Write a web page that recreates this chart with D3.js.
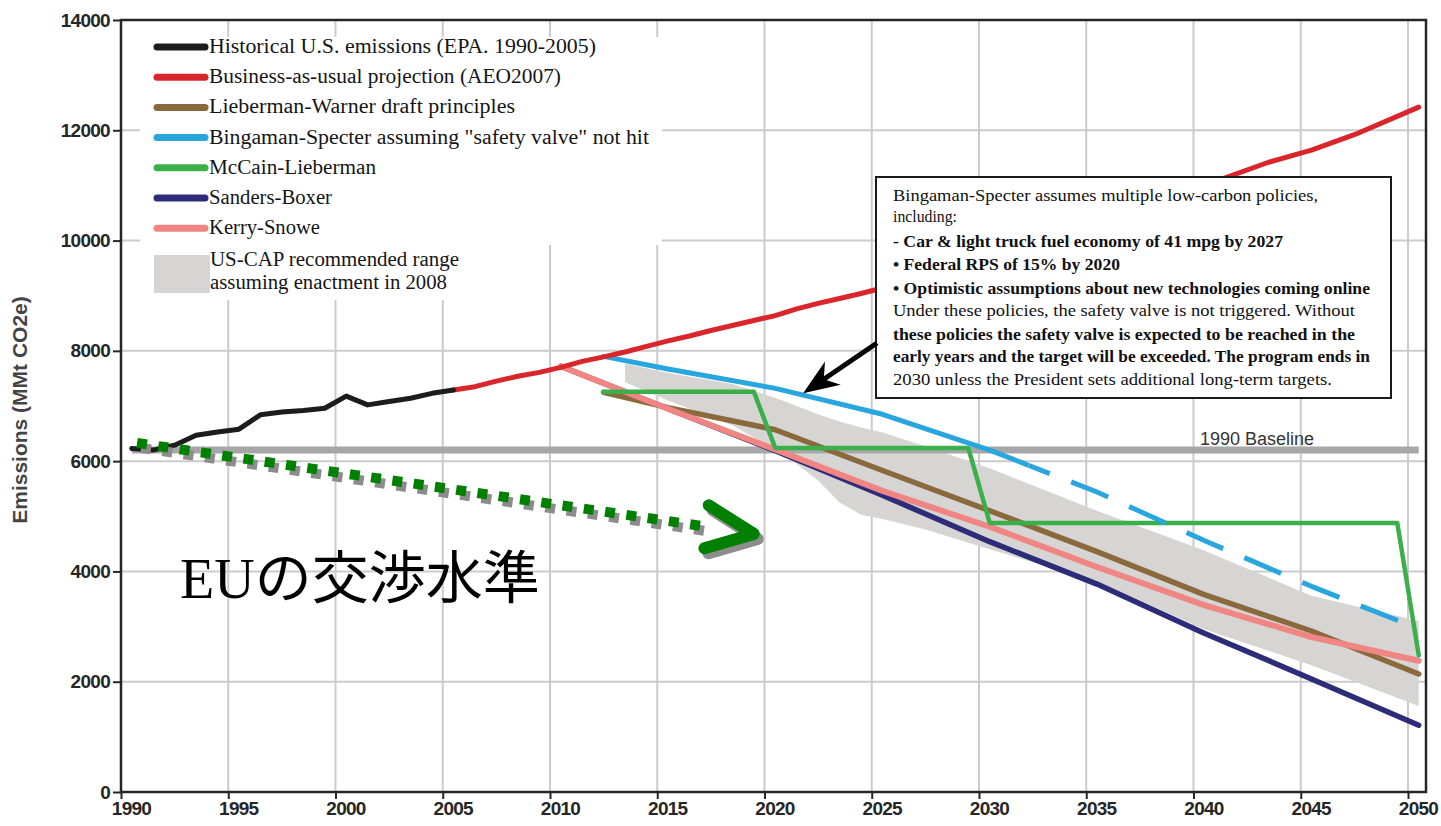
<!DOCTYPE html>
<html>
<head>
<meta charset="utf-8">
<script src="https://cdn.jsdelivr.net/npm/d3@7"></script>
<style>
  body { margin: 0; background: #fff; }
  svg { display: block; }
</style>
</head>
<body>
<svg id="chart" width="1441" height="826"></svg>
<script>
// ---- Data (MMt CO2e) -------------------------------------------------------
const yearTicks = [1990, 1995, 2000, 2005, 2010, 2015, 2020, 2025, 2030, 2035, 2040, 2045, 2050];
const emissionTicks = [0, 2000, 4000, 6000, 8000, 10000, 12000, 14000];

const historical = [
  [1990, 6230], [1991, 6200], [1992, 6290], [1993, 6470], [1994, 6530], [1995, 6580],
  [1996, 6840], [1997, 6890], [1998, 6920], [1999, 6960], [2000, 7180], [2001, 7020],
  [2002, 7080], [2003, 7140], [2004, 7230], [2005, 7290]
];
const businessAsUsual = [
  [2005, 7290], [2006, 7350], [2007, 7450], [2008, 7540], [2009, 7610], [2010, 7700],
  [2011, 7810], [2012, 7890], [2013, 7980], [2014, 8080], [2015, 8180], [2016, 8270],
  [2017, 8370], [2018, 8460], [2019, 8550], [2020, 8640], [2021, 8760], [2022, 8860],
  [2023, 8950], [2024, 9040], [2025, 9140], [2030, 9760], [2035, 10380], [2040, 11000],
  [2043, 11420], [2045, 11640], [2047, 11920], [2050, 12420]
];
const liebermanWarner = [
  [2012, 7250], [2015, 6970], [2020, 6570], [2025, 5830], [2030, 5100],
  [2035, 4360], [2040, 3580], [2045, 2920], [2050, 2140]
];
const bingamanSpecter = [
  [2012, 7900], [2015, 7670], [2020, 7320], [2025, 6850], [2030, 6200],
  [2035, 5440], [2040, 4560], [2045, 3730], [2050, 2960]
];
const bingamanDashedFrom = 2031.8;   // program ends: projection drawn dashed after this
const mccainLieberman = [
  [2012, 7260], [2019, 7260], [2020, 6240], [2029, 6240], [2030, 4880],
  [2049, 4880], [2050, 2480]
];
const sandersBoxer = [
  [2010, 7720], [2015, 6950], [2020, 6190], [2025, 5380], [2030, 4540],
  [2035, 3770], [2040, 2880], [2045, 2050], [2050, 1210]
];
const kerrySnowe = [
  [2010, 7720], [2015, 6950], [2020, 6210], [2025, 5460], [2030, 4810],
  [2035, 4080], [2040, 3390], [2045, 2810], [2050, 2380]
];
const rangeYears = [2013, 2015, 2018, 2020, 2021, 2022, 2023, 2024, 2025, 2027, 2030, 2035, 2040, 2045, 2050];
const rangeUpper = [7770, 7600, 7400, 7150, 7000, 6850, 6720, 6610, 6520, 6270, 5870, 5100, 4380, 3560, 3100];
const rangeLower = [7430, 7100, 6650, 6200, 5950, 5650, 5250, 5030, 4950, 4760, 4400, 3820, 2950, 2300, 1560];
const baseline = [[1990, 6200], [2050, 6200]];

const legendLabels = [
  "Historical U.S. emissions (EPA. 1990-2005)",
  "Business-as-usual projection (AEO2007)",
  "Lieberman-Warner draft principles",
  "Bingaman-Specter assuming \"safety valve\" not hit",
  "McCain-Lieberman",
  "Sanders-Boxer",
  "Kerry-Snowe"
];
const rangeLabel = ["US-CAP recommended range", "assuming enactment in 2008"];

const noteLines = [
  "Bingaman-Specter assumes multiple low-carbon policies,",
  "including:",
  "- Car & light truck fuel economy of 41 mpg by 2027",
  "\u2022 Federal RPS of 15% by 2020",
  "\u2022 Optimistic assumptions about new technologies coming online",
  "Under these policies, the safety valve is not triggered. Without",
  "these policies the safety valve is expected to be reached in the",
  "early years and the target will be exceeded. The program ends in",
  "2030 unless the President sets additional long-term targets."
];

// ---- Styles & layout -------------------------------------------------------
const colors = {
  historical: "#1c1c1c",
  bau: "#d9262c",
  lw: "#8a6a3c",
  bs: "#2aa6df",
  ml: "#3bb04a",
  sb: "#2c2c78",
  ks: "#ef8684",
  range: "#d7d4d4",
  baseline: "#a7a7a9",
  grid: "#cbcbcb",
  axis: "#262626"
};
const MID = 0.5; // annual values are plotted at mid-year
const legendTextWidths = [387, 352, 306, 440, 167, 123, 111];
const rangeTextWidths = [249, 237];
const noteTextWidths = [425, 64, 390, 227, 477, 462, 462, 477, 439];
const noteBold = [false, false, true, true, true, false, true, true, false];
const noteY = [201, 222, 247, 270, 294, 316, 340, 362, 385];

// ---- Scales ----------------------------------------------------------------
const svg = d3.select("#chart");
const plot = { left: 121, right: 1426, top: 20, bottom: 792 };
const x = d3.scaleLinear().domain([1990, 2050]).range([121, 1408]);
const y = d3.scaleLinear().domain([0, 14000]).range([plot.bottom, plot.top]);
const px = yr => x(yr + MID);

svg.append("rect").attr("width", 1441).attr("height", 826).attr("fill", "#fff");

// ---- Grid ------------------------------------------------------------------
const grid = svg.append("g").attr("stroke", colors.grid).attr("stroke-width", 2);
grid.selectAll("line.v").data(yearTicks.slice(1)).join("line")
  .attr("x1", d => x(d)).attr("x2", d => x(d))
  .attr("y1", plot.top).attr("y2", plot.bottom);
grid.selectAll("line.h").data(emissionTicks.slice(1, -1)).join("line")
  .attr("x1", plot.left).attr("x2", plot.right)
  .attr("y1", d => y(d)).attr("y2", d => y(d));

// white panel behind the legend
svg.append("rect").attr("x", 140).attr("y", 37).attr("width", 522).attr("height", 208).attr("fill", "#fff");
svg.append("rect").attr("x", 140).attr("y", 240).attr("width", 330).attr("height", 60).attr("fill", "#fff");

// ---- Series ----------------------------------------------------------------
const line = d3.line().x(d => px(d[0])).y(d => y(d[1]));

const area = d3.area()
  .x((d, i) => px(rangeYears[i]))
  .y0((d, i) => y(rangeLower[i]))
  .y1((d, i) => y(rangeUpper[i]));
svg.append("path").datum(rangeYears).attr("d", area).attr("fill", colors.range);

function drawLine(data, color, width) {
  return svg.append("path").datum(data).attr("d", line)
    .attr("fill", "none").attr("stroke", color).attr("stroke-width", width)
    .attr("stroke-linejoin", "round").attr("stroke-linecap", "round");
}

drawLine(baseline, colors.baseline, 7).attr("stroke-linecap", "butt");
svg.append("text").attr("x", 1200).attr("y", 445)
  .attr("font-family", "Liberation Sans, Arial, sans-serif").attr("font-size", 18)
  .attr("fill", "#333").text("1990 Baseline");

drawLine(liebermanWarner, colors.lw, 5.5);
drawLine(sandersBoxer, colors.sb, 5.5);
drawLine(kerrySnowe, colors.ks, 6);
drawLine(mccainLieberman, colors.ml, 4.5);

// Bingaman-Specter: solid while the program runs, dashed afterwards
const splitX = px(bingamanDashedFrom);
const defs = svg.append("defs");
defs.append("clipPath").attr("id", "clip-solid").append("rect")
  .attr("x", 0).attr("y", 0).attr("width", splitX).attr("height", 826);
defs.append("clipPath").attr("id", "clip-dash").append("rect")
  .attr("x", splitX).attr("y", 0).attr("width", 1441 - splitX).attr("height", 826);
drawLine(bingamanSpecter, colors.bs, 5).attr("clip-path", "url(#clip-solid)");
const dashed = drawLine(bingamanSpecter, colors.bs, 5).attr("clip-path", "url(#clip-dash)")
  .attr("stroke-linecap", "butt");
{
  const node = dashed.node();
  const total = node.getTotalLength();
  let lo = 0, hi = total;
  for (let k = 0; k < 40; k++) {
    const mid = (lo + hi) / 2;
    if (node.getPointAtLength(mid).x < splitX) lo = mid; else hi = mid;
  }
  const dash = 40, gap = 23;
  dashed.attr("stroke-dasharray", `${dash} ${gap}`).attr("stroke-dashoffset", dash - lo - gap);
}

drawLine(businessAsUsual, colors.bau, 5);
drawLine(historical, colors.historical, 5);

// ---- Axes & frame ----------------------------------------------------------
const axisFont = "Liberation Sans, Arial, sans-serif";
const yAxis = svg.append("g").attr("transform", `translate(${plot.left},0)`)
  .call(d3.axisLeft(y).tickValues(emissionTicks).tickSize(8).tickPadding(3).tickFormat(d3.format("d")));
const xAxis = svg.append("g").attr("transform", `translate(0,${plot.bottom})`)
  .call(d3.axisBottom(x).tickValues(yearTicks).tickSize(7).tickPadding(3).tickFormat(d3.format("d")));
[yAxis, xAxis].forEach(g => {
  g.select(".domain").remove();
  g.selectAll("line").attr("stroke", colors.axis).attr("stroke-width", 2);
  g.selectAll("text").attr("font-family", axisFont).attr("font-size", 19)
    .attr("font-weight", "bold").attr("fill", "#262626").attr("letter-spacing", -0.7);
});
xAxis.selectAll("text").attr("dx", 10);

svg.append("rect").attr("x", plot.left).attr("y", plot.top)
  .attr("width", plot.right - plot.left).attr("height", plot.bottom - plot.top)
  .attr("fill", "none").attr("stroke", colors.axis).attr("stroke-width", 2.5);

svg.append("text")
  .attr("transform", `translate(27,410) rotate(-90)`)
  .attr("text-anchor", "middle").attr("font-family", axisFont).attr("font-size", 21)
  .attr("font-weight", "bold").attr("fill", "#444").text("Emissions (MMt CO2e)");

// ---- Legend ----------------------------------------------------------------
const legendColors = [colors.historical, colors.bau, colors.lw, colors.bs, colors.ml, colors.sb, colors.ks];
const legend = svg.append("g").attr("font-family", "Liberation Serif, Times New Roman, serif")
  .attr("font-size", 20).attr("fill", "#151515");
legendLabels.forEach((label, i) => {
  const ly = 47 + i * 30.2;
  legend.append("line").attr("x1", 157).attr("x2", 205).attr("y1", ly).attr("y2", ly)
    .attr("stroke", legendColors[i]).attr("stroke-width", 7).attr("stroke-linecap", "round");
  legend.append("text").attr("x", 209).attr("y", ly + 6)
    .attr("textLength", legendTextWidths[i]).attr("lengthAdjust", "spacingAndGlyphs").text(label);
});
legend.append("rect").attr("x", 154).attr("y", 255).attr("width", 56).attr("height", 38)
  .attr("fill", colors.range);
rangeLabel.forEach((t, i) => legend.append("text").attr("x", 210).attr("y", 266 + i * 23)
  .attr("textLength", rangeTextWidths[i]).attr("lengthAdjust", "spacingAndGlyphs").text(t));

// ---- Note box --------------------------------------------------------------
const note = svg.append("g");
note.append("rect").attr("x", 876).attr("y", 177).attr("width", 515).attr("height", 221)
  .attr("fill", "#fff").attr("stroke", "#1a1a1a").attr("stroke-width", 2);
noteLines.forEach((t, i) => {
  note.append("text").attr("x", 893).attr("y", noteY[i])
    .attr("font-family", "Liberation Serif, Times New Roman, serif").attr("font-size", 17)
    .attr("font-weight", noteBold[i] ? "bold" : "normal").attr("fill", "#111")
    .attr("textLength", noteTextWidths[i]).attr("lengthAdjust", "spacingAndGlyphs").text(t);
});

// pointer from the note to the Bingaman-Specter line
{
  const start = [877, 343];
  const tip = [px(2021.3), y(7230)];
  const dx = tip[0] - start[0], dy = tip[1] - start[1];
  const len = Math.hypot(dx, dy), ux = dx / len, uy = dy / len, nx = -uy, ny = ux;
  const headLen = 36, half = 14, notch = 11;
  const base = [tip[0] - ux * headLen, tip[1] - uy * headLen];
  const notchPt = [tip[0] - ux * (headLen - notch), tip[1] - uy * (headLen - notch)];
  svg.append("line").attr("x1", start[0]).attr("y1", start[1])
    .attr("x2", notchPt[0]).attr("y2", notchPt[1])
    .attr("stroke", "#000").attr("stroke-width", 5);
  svg.append("path").attr("d", d3.line()([
    tip, [base[0] + nx * half, base[1] + ny * half], notchPt,
    [base[0] - nx * half, base[1] - ny * half]
  ]) + "Z").attr("fill", "#000");
}

// ---- EU negotiating level (dotted arrow) -----------------------------------
{
  const from = [x(1990.75), y(6330)];
  const to = [x(2017.5), y(4800)];
  const chevron = [[x(2017.4), y(5200)], [x(2019.5), y(4680)], [x(2017.2), y(4420)]];
  const drawArrow = (dx, dy, color) => {
    const g = svg.append("g").attr("transform", `translate(${dx},${dy})`);
    g.append("line").attr("x1", from[0]).attr("y1", from[1]).attr("x2", to[0]).attr("y2", to[1])
      .attr("stroke", color).attr("stroke-width", 10).attr("stroke-dasharray", "10 11.5");
    g.append("path").attr("d", d3.line()(chevron)).attr("fill", "none")
      .attr("stroke", color).attr("stroke-width", 12)
      .attr("stroke-linecap", "round").attr("stroke-linejoin", "round");
  };
  drawArrow(4, 5, "#8c8c8c");
  drawArrow(0, 0, "#008000");
}

const eu = svg.append("text").attr("x", 180).attr("y", 598).attr("fill", "#000");
eu.append("tspan").attr("font-family", "Liberation Serif, Times New Roman, serif")
  .attr("font-size", 56).text("EU");
eu.append("tspan").attr("font-family", "Noto Sans CJK JP, sans-serif")
  .attr("font-size", 57).text("の交渉水準");
</script>
</body>
</html>
